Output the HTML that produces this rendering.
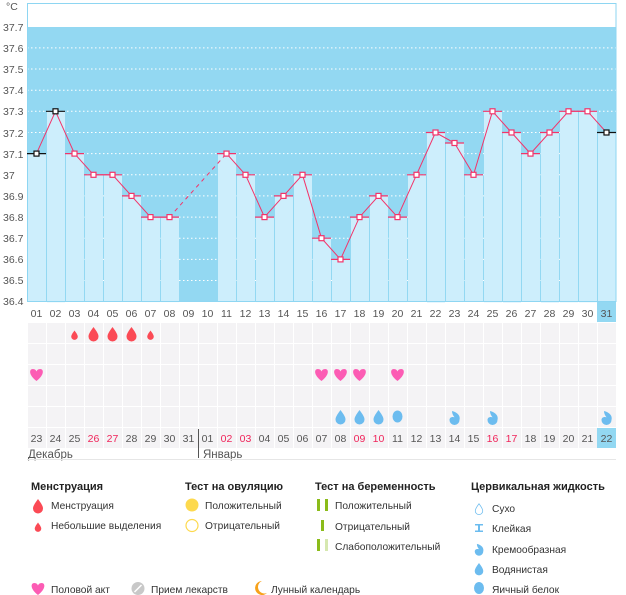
<!DOCTYPE html>
<html><head><meta charset="utf-8"><style>
html,body{margin:0;padding:0;background:#fff;width:626px;height:595px;overflow:hidden}
svg{display:block;font-family:"Liberation Sans","DejaVu Sans",sans-serif}
.ax{font-size:10.5px;fill:#555}
.d{font-size:10.5px;fill:#555;text-anchor:middle}
.r{fill:#f0245a}
.lg{font-size:10.2px;fill:#333}
.lh{font-size:11px;fill:#222;font-weight:bold}
</style></head><body>
<svg width="626" height="595" viewBox="0 0 626 595">
<defs>
<path id="drop" d="M0,-7 C3,-3 5,0 5,2.5 A5,5 0 0 1 -5,2.5 C-5,0 -3,-3 0,-7Z"/>
<path id="heart" d="M0,6 C-8,0 -7.5,-6 -3.7,-6 C-1.6,-6 0,-4.5 0,-3.2 C0,-4.5 1.6,-6 3.7,-6 C7.5,-6 8,0 0,6Z"/>
<path id="cream" d="M-2.5,-6 C3.5,-4.5 6,-1 5,3 A5,5 0 0 1 -5,3 C-5,0.5 -2.5,-0.5 0,0.3 C-1.5,-1.5 -2.5,-3.5 -2.5,-6Z"/>
</defs>
<rect x="27" y="3" width="589" height="24" fill="#fff"/>
<rect x="27" y="27" width="589" height="275" fill="#93d8f2"/>
<g stroke="#fff" stroke-dasharray="1.5,2.5" stroke-width="1">
<line x1="27" x2="616" y1="47.9" y2="47.9"/><line x1="27" x2="616" y1="69" y2="69"/><line x1="27" x2="616" y1="90.2" y2="90.2"/><line x1="27" x2="616" y1="111.3" y2="111.3"/><line x1="27" x2="616" y1="132.5" y2="132.5"/><line x1="27" x2="616" y1="153.6" y2="153.6"/><line x1="27" x2="616" y1="174.8" y2="174.8"/><line x1="27" x2="616" y1="195.9" y2="195.9"/><line x1="27" x2="616" y1="217.1" y2="217.1"/><line x1="27" x2="616" y1="238.2" y2="238.2"/><line x1="27" x2="616" y1="259.4" y2="259.4"/><line x1="27" x2="616" y1="280.5" y2="280.5"/>
</g>
<g fill="#cdeefc">
<rect x="28" y="153.6" width="18" height="148"/>
<rect x="47" y="111.3" width="18" height="191"/>
<rect x="66" y="153.6" width="18" height="148"/>
<rect x="85" y="174.8" width="18" height="127"/>
<rect x="104" y="174.8" width="18" height="127"/>
<rect x="123" y="195.9" width="18" height="106"/>
<rect x="142" y="217.1" width="18" height="85"/>
<rect x="161" y="217.1" width="18" height="85"/>
<rect x="218" y="153.6" width="18" height="148"/>
<rect x="237" y="174.8" width="18" height="127"/>
<rect x="256" y="217.1" width="18" height="85"/>
<rect x="275" y="195.9" width="18" height="106"/>
<rect x="294" y="174.8" width="18" height="127"/>
<rect x="313" y="238.2" width="18" height="64"/>
<rect x="332" y="259.4" width="18" height="43"/>
<rect x="351" y="217.1" width="18" height="85"/>
<rect x="370" y="195.9" width="18" height="106"/>
<rect x="389" y="217.1" width="18" height="85"/>
<rect x="408" y="174.8" width="18" height="127"/>
<rect x="427" y="132.5" width="18" height="170"/>
<rect x="446" y="143" width="18" height="159"/>
<rect x="465" y="174.8" width="18" height="127"/>
<rect x="484" y="111.3" width="18" height="191"/>
<rect x="503" y="132.5" width="18" height="170"/>
<rect x="522" y="153.6" width="18" height="148"/>
<rect x="541" y="132.5" width="18" height="170"/>
<rect x="560" y="111.3" width="18" height="191"/>
<rect x="579" y="111.3" width="18" height="191"/>
<rect x="598" y="132.5" width="18" height="170"/>
</g>
<rect x="27.5" y="3.5" width="588.5" height="298" fill="none" stroke="#8ed6f2"/>
<g stroke="#f2346a" stroke-width="1.2">
<line x1="65" x2="84" y1="153.6" y2="153.6"/><line x1="84" x2="103" y1="174.8" y2="174.8"/><line x1="103" x2="122" y1="174.8" y2="174.8"/><line x1="122" x2="141" y1="195.9" y2="195.9"/><line x1="141" x2="160" y1="217.1" y2="217.1"/><line x1="160" x2="179" y1="217.1" y2="217.1"/>
<line x1="217" x2="236" y1="153.6" y2="153.6"/><line x1="236" x2="255" y1="174.8" y2="174.8"/><line x1="255" x2="274" y1="217.1" y2="217.1"/><line x1="274" x2="293" y1="195.9" y2="195.9"/><line x1="293" x2="312" y1="174.8" y2="174.8"/><line x1="312" x2="331" y1="238.2" y2="238.2"/><line x1="331" x2="350" y1="259.4" y2="259.4"/><line x1="350" x2="369" y1="217.1" y2="217.1"/><line x1="369" x2="388" y1="195.9" y2="195.9"/><line x1="388" x2="407" y1="217.1" y2="217.1"/><line x1="407" x2="426" y1="174.8" y2="174.8"/><line x1="426" x2="445" y1="132.5" y2="132.5"/><line x1="445" x2="464" y1="143" y2="143"/><line x1="464" x2="483" y1="174.8" y2="174.8"/><line x1="483" x2="502" y1="111.3" y2="111.3"/><line x1="502" x2="521" y1="132.5" y2="132.5"/><line x1="521" x2="540" y1="153.6" y2="153.6"/><line x1="540" x2="559" y1="132.5" y2="132.5"/><line x1="559" x2="578" y1="111.3" y2="111.3"/><line x1="578" x2="597" y1="111.3" y2="111.3"/>
</g>
<g stroke="#111" stroke-width="1.2">
<line x1="27" x2="46" y1="153.6" y2="153.6"/><line x1="46" x2="65" y1="111.3" y2="111.3"/><line x1="597" x2="616" y1="132.5" y2="132.5"/>
</g>
<polyline fill="none" stroke="#f2346a" stroke-width="1" points="36.5,153.6 55.5,111.3 74.5,153.6 93.5,174.8 112.5,174.8 131.5,195.9 150.5,217.1 169.5,217.1"/>
<line x1="169.5" y1="217.1" x2="226.5" y2="153.6" stroke="#f2346a" stroke-dasharray="4,4"/>
<polyline fill="none" stroke="#f2346a" stroke-width="1" points="226.5,153.6 245.5,174.8 264.5,217.1 283.5,195.9 302.5,174.8 321.5,238.2 340.5,259.4 359.5,217.1 378.5,195.9 397.5,217.1 416.5,174.8 435.5,132.5 454.5,143 473.5,174.8 492.5,111.3 511.5,132.5 530.5,153.6 549.5,132.5 568.5,111.3 587.5,111.3 606.5,132.5"/>
<g fill="#fff" stroke="#f2346a" stroke-width="1.2">
<rect x="72" y="151.1" width="5" height="5"/><rect x="91" y="172.3" width="5" height="5"/><rect x="110" y="172.3" width="5" height="5"/><rect x="129" y="193.4" width="5" height="5"/><rect x="148" y="214.6" width="5" height="5"/><rect x="167" y="214.6" width="5" height="5"/>
<rect x="224" y="151.1" width="5" height="5"/><rect x="243" y="172.3" width="5" height="5"/><rect x="262" y="214.6" width="5" height="5"/><rect x="281" y="193.4" width="5" height="5"/><rect x="300" y="172.3" width="5" height="5"/><rect x="319" y="235.7" width="5" height="5"/><rect x="338" y="256.9" width="5" height="5"/><rect x="357" y="214.6" width="5" height="5"/><rect x="376" y="193.4" width="5" height="5"/><rect x="395" y="214.6" width="5" height="5"/><rect x="414" y="172.3" width="5" height="5"/><rect x="433" y="130" width="5" height="5"/><rect x="452" y="140.5" width="5" height="5"/><rect x="471" y="172.3" width="5" height="5"/><rect x="490" y="108.8" width="5" height="5"/><rect x="509" y="130" width="5" height="5"/><rect x="528" y="151.1" width="5" height="5"/><rect x="547" y="130" width="5" height="5"/><rect x="566" y="108.8" width="5" height="5"/><rect x="585" y="108.8" width="5" height="5"/>
</g>
<g fill="#fff" stroke="#111" stroke-width="1.2">
<rect x="34" y="151.1" width="5" height="5"/><rect x="53" y="108.8" width="5" height="5"/><rect x="604" y="130" width="5" height="5"/>
</g>
<g class="ax">
<text x="6" y="10">°C</text>
<text x="3" y="31">37.7</text><text x="3" y="52">37.6</text><text x="3" y="73">37.5</text><text x="3" y="94">37.4</text><text x="3" y="115">37.3</text><text x="3" y="137">37.2</text><text x="3" y="158">37.1</text><text x="3" y="179">37</text><text x="3" y="200">36.9</text><text x="3" y="221">36.8</text><text x="3" y="242">36.7</text><text x="3" y="263">36.6</text><text x="3" y="284">36.5</text><text x="3" y="305">36.4</text>
</g>
<rect x="597" y="302" width="19" height="20" fill="#93d8f2"/>
<g class="d">
<text x="36.5" y="317">01</text><text x="55.5" y="317">02</text><text x="74.5" y="317">03</text><text x="93.5" y="317">04</text><text x="112.5" y="317">05</text><text x="131.5" y="317">06</text><text x="150.5" y="317">07</text><text x="169.5" y="317">08</text><text x="188.5" y="317">09</text><text x="207.5" y="317">10</text><text x="226.5" y="317">11</text><text x="245.5" y="317">12</text><text x="264.5" y="317">13</text><text x="283.5" y="317">14</text><text x="302.5" y="317">15</text><text x="321.5" y="317">16</text><text x="340.5" y="317">17</text><text x="359.5" y="317">18</text><text x="378.5" y="317">19</text><text x="397.5" y="317">20</text><text x="416.5" y="317">21</text><text x="435.5" y="317">22</text><text x="454.5" y="317">23</text><text x="473.5" y="317">24</text><text x="492.5" y="317">25</text><text x="511.5" y="317">26</text><text x="530.5" y="317">27</text><text x="549.5" y="317">28</text><text x="568.5" y="317">29</text><text x="587.5" y="317">30</text><text x="606.5" y="317">31</text>
</g>
<defs><pattern id="cells" x="27" y="323" width="19" height="21" patternUnits="userSpaceOnUse"><rect x="1" y="0" width="18" height="20" fill="#f4f3f5"/></pattern></defs>
<rect x="27" y="323" width="589" height="125" fill="url(#cells)"/>
<rect x="597" y="428" width="19" height="20" fill="#93d8f2"/>
<g fill="#fb4a55">
<use href="#drop" transform="translate(74.5,335) scale(0.65)"/>
<use href="#drop" transform="translate(93.5,334)"/>
<use href="#drop" transform="translate(112.5,334)"/>
<use href="#drop" transform="translate(131.5,334)"/>
<use href="#drop" transform="translate(150.5,335) scale(0.65)"/>
</g>
<g fill="#fc5cb4">
<use href="#heart" transform="translate(36.5,375)"/>
<use href="#heart" transform="translate(321.5,375)"/>
<use href="#heart" transform="translate(340.5,375)"/>
<use href="#heart" transform="translate(359.5,375)"/>
<use href="#heart" transform="translate(397.5,375)"/>
</g>
<g fill="#6cbcef">
<use href="#drop" transform="translate(340.5,417)"/>
<use href="#drop" transform="translate(359.5,417)"/>
<use href="#drop" transform="translate(378.5,417)"/>
<ellipse cx="397.5" cy="416.5" rx="5" ry="6"/>
<use href="#cream" transform="translate(454.5,417)"/>
<use href="#cream" transform="translate(492.5,417)"/>
<use href="#cream" transform="translate(606.5,417)"/>
</g>
<g class="d">
<text x="36.5" y="442">23</text><text x="55.5" y="442">24</text><text x="74.5" y="442">25</text><text x="93.5" y="442" class="r">26</text><text x="112.5" y="442" class="r">27</text><text x="131.5" y="442">28</text><text x="150.5" y="442">29</text><text x="169.5" y="442">30</text><text x="188.5" y="442">31</text><text x="207.5" y="442">01</text><text x="226.5" y="442" class="r">02</text><text x="245.5" y="442" class="r">03</text><text x="264.5" y="442">04</text><text x="283.5" y="442">05</text><text x="302.5" y="442">06</text><text x="321.5" y="442">07</text><text x="340.5" y="442">08</text><text x="359.5" y="442" class="r">09</text><text x="378.5" y="442" class="r">10</text><text x="397.5" y="442">11</text><text x="416.5" y="442">12</text><text x="435.5" y="442">13</text><text x="454.5" y="442">14</text><text x="473.5" y="442">15</text><text x="492.5" y="442" class="r">16</text><text x="511.5" y="442" class="r">17</text><text x="530.5" y="442">18</text><text x="549.5" y="442">19</text><text x="568.5" y="442">20</text><text x="587.5" y="442">21</text><text x="606.5" y="442">22</text>
</g>
<line x1="198.5" y1="429" x2="198.5" y2="458" stroke="#555"/>
<text x="28" y="458" class="ax" style="font-size:11.5px">Декабрь</text>
<text x="203" y="458" class="ax" style="font-size:11.5px">Январь</text>
<line x1="27" y1="459.5" x2="616" y2="459.5" stroke="#e6e6e6"/>
<text x="31" y="490" class="lh">Менструация</text>
<use href="#drop" fill="#fb4a55" transform="translate(38,506)"/>
<text x="51" y="509" class="lg">Менструация</text>
<use href="#drop" fill="#fb4a55" transform="translate(38,527) scale(0.65)"/>
<text x="51" y="529" class="lg">Небольшие выделения</text>
<text x="185" y="490" class="lh">Тест на овуляцию</text>
<circle cx="192" cy="505" r="6.5" fill="#fdd94e"/>
<text x="205" y="509" class="lg">Положительный</text>
<circle cx="192" cy="525.5" r="6" fill="#fff" stroke="#fdd94e" stroke-width="1.2"/>
<text x="205" y="529" class="lg">Отрицательный</text>
<text x="315" y="490" class="lh">Тест на беременность</text>
<rect x="317" y="499" width="3" height="12" fill="#8bbc1a"/><rect x="325" y="499" width="3" height="12" fill="#8bbc1a"/>
<text x="335" y="509" class="lg">Положительный</text>
<rect x="321" y="520" width="3" height="11" fill="#8bbc1a"/>
<text x="335" y="530" class="lg">Отрицательный</text>
<rect x="317" y="539" width="3" height="12" fill="#8bbc1a"/><rect x="325" y="539" width="3" height="12" fill="#d6e8b0"/>
<text x="335" y="550" class="lg">Слабоположительный</text>
<text x="471" y="490" class="lh">Цервикальная жидкость</text>
<use href="#drop" fill="#fff" stroke="#6cbcef" transform="translate(479,509) scale(0.75)"/>
<text x="492" y="512" class="lg">Сухо</text>
<path d="M475,524 h8 v1.5 h-3 v5 h3 v1.5 h-8 v-1.5 h3 v-5 h-3z" fill="#6cbcef"/>
<text x="492" y="532" class="lg">Клейкая</text>
<use href="#cream" fill="#6cbcef" transform="translate(479,549) scale(0.85)"/>
<text x="492" y="553" class="lg">Кремообразная</text>
<use href="#drop" fill="#6cbcef" transform="translate(479,569) scale(0.85)"/>
<text x="492" y="573" class="lg">Водянистая</text>
<ellipse cx="479" cy="588" rx="5" ry="6" fill="#6cbcef"/>
<text x="492" y="593" class="lg">Яичный белок</text>
<use href="#heart" fill="#fc5cb4" transform="translate(38,589)"/>
<text x="51" y="593" class="lg">Половой акт</text>
<circle cx="138" cy="588.5" r="6.5" fill="#c8c8c8"/><line x1="134.5" y1="592" x2="141.5" y2="585" stroke="#fff" stroke-width="1.5"/>
<text x="151" y="593" class="lg">Прием лекарств</text>
<path d="M262,581 A7,7 0 1 0 267,593 A6,6 0 0 1 262,581Z" fill="#f7a21b"/>
<text x="271" y="593" class="lg">Лунный календарь</text>
</svg>
</body></html>
